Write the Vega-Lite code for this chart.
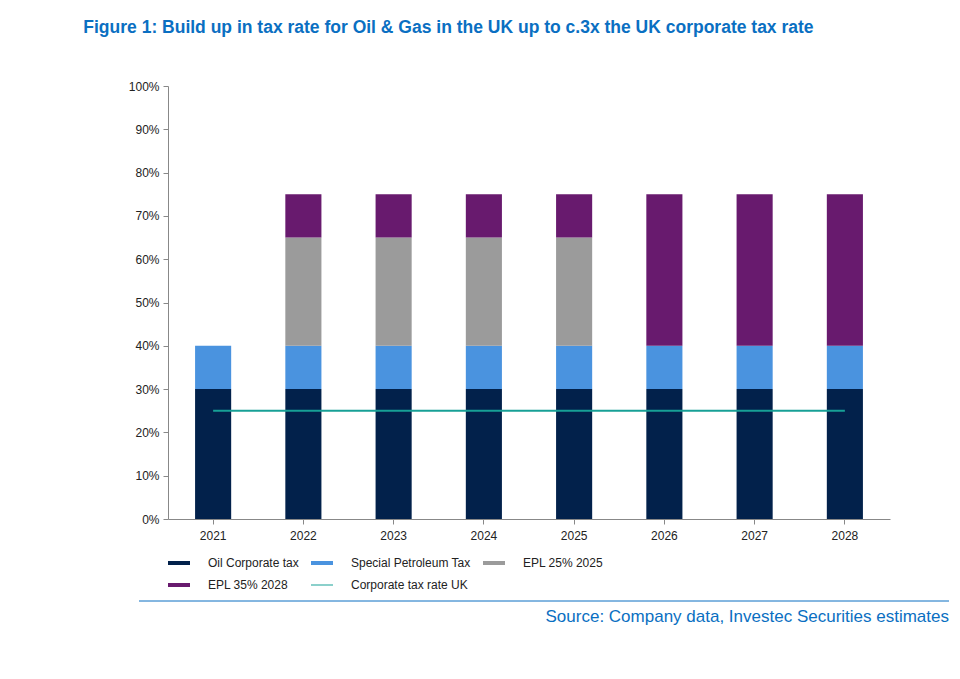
{
  "$schema": "https://vega.github.io/schema/vega-lite/v6.json",
  "background": "white",
  "padding": {"left": 83, "top": 18, "right": 20, "bottom": 10},
  "config": {"font": "Liberation Sans", "view": {"stroke": null}, "concat": {"spacing": 6}},
  "title": {"text": "Figure 1: Build up in tax rate for Oil & Gas in the UK up to c.3x the UK corporate tax rate", "anchor": "start", "color": "#0a6fc2", "fontSize": 17.5, "fontWeight": "bold", "font": "Liberation Sans", "offset": 44, "dx": -45},
  "resolve": {"legend": {"color": "independent"}},
  "datasets": {
    "bars": [
      {"year": "2021", "series": "Oil Corporate tax", "value": 30, "k": 1},
      {"year": "2021", "series": "Special Petroleum Tax", "value": 10, "k": 2},
      {"year": "2022", "series": "Oil Corporate tax", "value": 30, "k": 1},
      {"year": "2022", "series": "Special Petroleum Tax", "value": 10, "k": 2},
      {"year": "2022", "series": "EPL 25% 2025", "value": 25, "k": 3},
      {"year": "2022", "series": "EPL 35% 2028", "value": 10, "k": 4},
      {"year": "2023", "series": "Oil Corporate tax", "value": 30, "k": 1},
      {"year": "2023", "series": "Special Petroleum Tax", "value": 10, "k": 2},
      {"year": "2023", "series": "EPL 25% 2025", "value": 25, "k": 3},
      {"year": "2023", "series": "EPL 35% 2028", "value": 10, "k": 4},
      {"year": "2024", "series": "Oil Corporate tax", "value": 30, "k": 1},
      {"year": "2024", "series": "Special Petroleum Tax", "value": 10, "k": 2},
      {"year": "2024", "series": "EPL 25% 2025", "value": 25, "k": 3},
      {"year": "2024", "series": "EPL 35% 2028", "value": 10, "k": 4},
      {"year": "2025", "series": "Oil Corporate tax", "value": 30, "k": 1},
      {"year": "2025", "series": "Special Petroleum Tax", "value": 10, "k": 2},
      {"year": "2025", "series": "EPL 25% 2025", "value": 25, "k": 3},
      {"year": "2025", "series": "EPL 35% 2028", "value": 10, "k": 4},
      {"year": "2026", "series": "Oil Corporate tax", "value": 30, "k": 1},
      {"year": "2026", "series": "Special Petroleum Tax", "value": 10, "k": 2},
      {"year": "2026", "series": "EPL 35% 2028", "value": 35, "k": 4},
      {"year": "2027", "series": "Oil Corporate tax", "value": 30, "k": 1},
      {"year": "2027", "series": "Special Petroleum Tax", "value": 10, "k": 2},
      {"year": "2027", "series": "EPL 35% 2028", "value": 35, "k": 4},
      {"year": "2028", "series": "Oil Corporate tax", "value": 30, "k": 1},
      {"year": "2028", "series": "Special Petroleum Tax", "value": 10, "k": 2},
      {"year": "2028", "series": "EPL 35% 2028", "value": 35, "k": 4}
    ],
    "line": [
      {"year": "2021", "series": "Corporate tax rate UK", "value": 25},
      {"year": "2022", "series": "Corporate tax rate UK", "value": 25},
      {"year": "2023", "series": "Corporate tax rate UK", "value": 25},
      {"year": "2024", "series": "Corporate tax rate UK", "value": 25},
      {"year": "2025", "series": "Corporate tax rate UK", "value": 25},
      {"year": "2026", "series": "Corporate tax rate UK", "value": 25},
      {"year": "2027", "series": "Corporate tax rate UK", "value": 25},
      {"year": "2028", "series": "Corporate tax rate UK", "value": 25}
    ],
    "source": [{"t": "Source: Company data, Investec Securities estimates"}]
  },
  "vconcat": [
    {
      "width": 722,
      "height": 433,
      "encoding": {
        "x": {"field": "year", "type": "ordinal", "title": null, "scale": {"paddingInner": 0.6, "paddingOuter": 0.3},
          "axis": {"labelAngle": 0, "labelFontSize": 12, "labelColor": "#222", "domainColor": "#888", "tickColor": "#888", "labelPadding": 6}},
        "y": {"field": "value", "type": "quantitative", "stack": "zero", "title": null,
          "scale": {"domain": [0, 100]},
          "axis": {"values": [0,10,20,30,40,50,60,70,80,90,100], "labelExpr": "datum.value + '%'", "grid": false, "labelFontSize": 12, "labelColor": "#222", "domainColor": "#888", "tickColor": "#888", "labelPadding": 4}},
        "color": {"field": "series", "type": "nominal",
          "scale": {"domain": ["Oil Corporate tax", "Special Petroleum Tax", "EPL 25% 2025", "EPL 35% 2028", "Corporate tax rate UK"],
            "range": ["#02214b", "#4a93df", "#9b9b9b", "#681a6e", "#17a096"]},
          "legend": {"orient": "bottom", "title": null, "columns": 3, "columnPadding": 12, "rowPadding": 10, "labelFontSize": 12, "labelColor": "#222", "symbolSize": 100, "symbolOpacity": 1, "offset": 16, "labelLimit": 300, "labelOffset": 28, "padding": 0,
            "encode": {"symbols": {"update": {"shape": {"signal": "datum.value === 'Corporate tax rate UK' ? 'M-1.2,-0.1L3.2,-0.1L3.2,0.1L-1.2,0.1Z' : 'M-1.2,-0.4L3.2,-0.4L3.2,0.4L-1.2,0.4Z'"}, "strokeWidth": {"value": 0}}}}}}
      },
      "layer": [
        {"data": {"name": "bars"}, "mark": {"type": "bar"}, "encoding": {"order": {"field": "k", "type": "quantitative"}}},
        {"data": {"name": "line"}, "mark": {"type": "line", "strokeWidth": 2}}
      ]
    },
    {
      "width": 722,
      "height": 40,
      "data": {"name": "source"},
      "layer": [
        {"mark": {"type": "rule", "color": "#0a6fc2", "strokeWidth": 1}, "encoding": {"x": {"datum": -110, "type": "quantitative", "scale": {"domain": [-110, 790], "range": [-110, 790]}, "axis": null}, "x2": {"datum": 790}, "y": {"value": 4}}},
        {"mark": {"type": "text", "align": "right", "baseline": "top", "fontSize": 17, "color": "#0a6fc2"}, "encoding": {"text": {"field": "t"}, "x": {"datum": 790, "type": "quantitative"}, "y": {"value": 12}}}
      ]
    }
  ]
}
